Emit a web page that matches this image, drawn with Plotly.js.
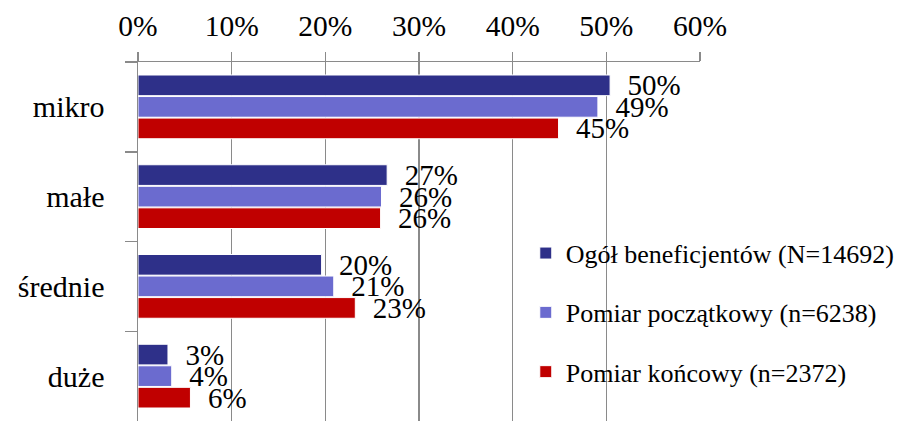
<!DOCTYPE html>
<html>
<head>
<meta charset="utf-8">
<script src="https://cdn.plot.ly/plotly-3.0.1.min.js"></script>
<style>html,body{margin:0;padding:0;background:#fff}#chart{width:902px;height:421px}</style>
</head>
<body>
<div id="chart"></div>
<script>
var categories = ["mikro", "małe", "średnie", "duże"];
var seriesNames = ["Ogół beneficjentów (N=14692)", "Pomiar początkowy (n=6238)", "Pomiar końcowy (n=2372)"];
var ogol = [50.4, 26.6, 19.6, 3.2];
var poczatkowy = [49.1, 26.0, 20.9, 3.6];
var koncowy = [44.9, 25.9, 23.2, 5.6];
var xTickVals = [0, 10, 20, 30, 40, 50, 60];
var xTickText = ["0%", "10%", "20%", "30%", "40%", "50%", "60%"];

var colors = ["#2e3089", "#6b6bcf", "#c00000"];
var serif = "Liberation Serif, Times New Roman, serif";
var allSeries = [ogol, poczatkowy, koncowy];

var traces = allSeries.map(function (vals, i) {
  return {
    type: "bar",
    orientation: "h",
    name: seriesNames[i],
    legendgroup: "g" + i,
    y: categories,
    x: vals,
    marker: { color: colors[i], line: { color: "#ffffff", width: 1 } },
    texttemplate: "\u00a0\u00a0%{x:.0f}%",
    textposition: "outside",
    constraintext: "none",
    cliponaxis: false,
    textfont: { family: serif, size: 29, color: "#000" },
    hoverinfo: "skip"
  };
});

var layout = {
  width: 902,
  height: 421,
  margin: { l: 138, r: 202, t: 62, b: 0 },
  paper_bgcolor: "#fff",
  plot_bgcolor: "#fff",
  barmode: "group",
  bargap: 0.28,
  bargroupgap: 0.04,
  font: { family: serif, size: 29, color: "#000" },
  xaxis: {
    side: "top",
    range: [0, 60],
    tickvals: xTickVals,
    ticktext: xTickText,
    showgrid: true,
    gridcolor: "#8a8a8a",
    gridwidth: 1.5,
    showline: true,
    linecolor: "#8a8a8a",
    linewidth: 1.5,
    ticks: "outside",
    ticklen: 9,
    tickwidth: 1.5,
    tickcolor: "#8a8a8a",
    ticklabelstandoff: 4,
    zeroline: false,
    tickfont: { family: serif, size: 29.5, color: "#000" },
    fixedrange: true
  },
  yaxis: {
    type: "category",
    categoryorder: "array",
    categoryarray: categories,
    autorange: "reversed",
    showline: true,
    linecolor: "#8a8a8a",
    linewidth: 1.5,
    ticks: "outside",
    tickson: "boundaries",
    ticklen: 12,
    tickwidth: 1.5,
    tickcolor: "#8a8a8a",
    ticklabelstandoff: 26,
    showgrid: false,
    tickfont: { family: serif, size: 30, color: "#000" },
    fixedrange: true
  },
  legend: {
    x: 0.69,
    xanchor: "left",
    y: 0.533,
    yanchor: "top",
    bgcolor: "rgba(0,0,0,0)",
    traceorder: "grouped",
    tracegroupgap: 22.5,
    font: { family: serif, size: 26, color: "#000" }
  },
  showlegend: true
};

Plotly.newPlot("chart", traces, layout, { displayModeBar: false, staticPlot: true });
</script>
</body>
</html>
